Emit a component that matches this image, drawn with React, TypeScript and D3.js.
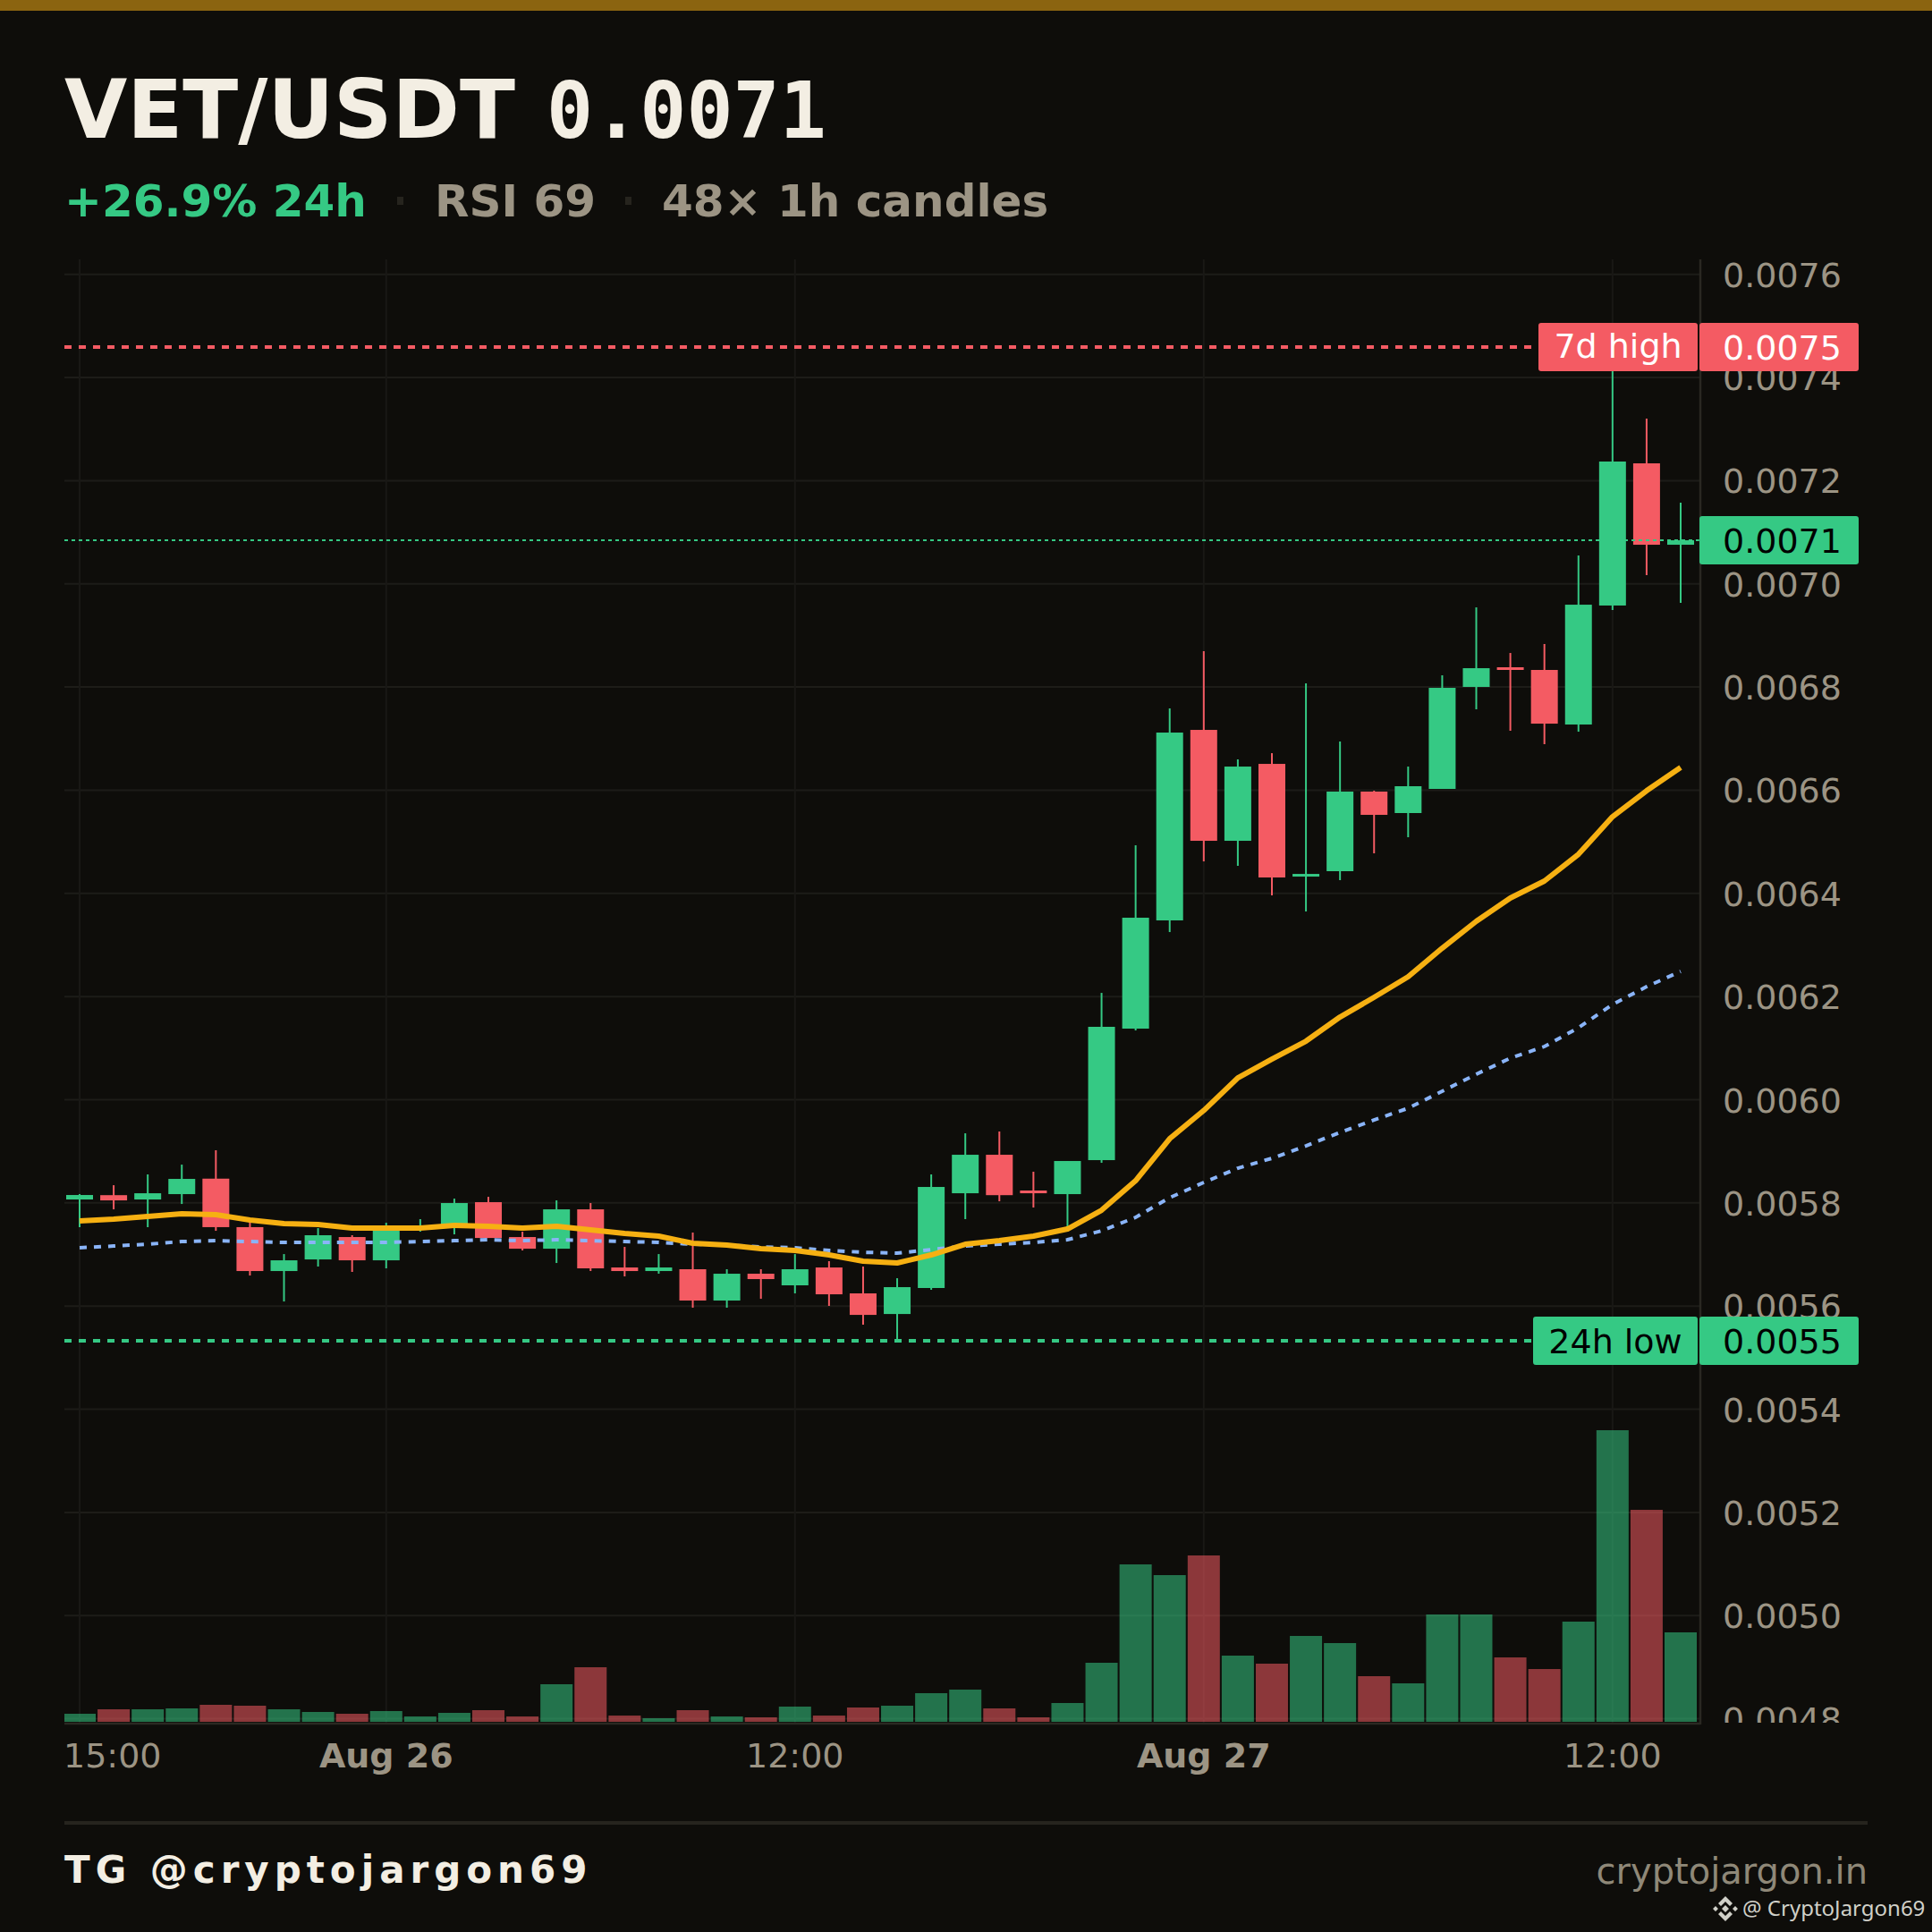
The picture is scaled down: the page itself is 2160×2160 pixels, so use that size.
import { useRef, useEffect } from 'react';
import * as d3 from 'd3';

const BG = '#0e0d0a';
const GREEN = '#35c984';
const RED = '#f45b63';
const MUTED = '#9c9484';
const CREAM = '#f3eee3';

const opens = [
  0.0058066, 0.005815, 0.0058066, 0.005817, 0.005847, 0.005753, 0.0056679, 0.0056904, 0.0057338, 0.0056887,
  0.0057511, 0.0057563, 0.0058014, 0.0057338, 0.0057112, 0.0057875, 0.0056748, 0.0056679, 0.0056714, 0.0056107,
  0.0056627, 0.0056402, 0.0056748, 0.0056246, 0.0055846, 0.005635, 0.0058187, 0.0058933, 0.005824, 0.005817,
  0.0058829, 0.0061378, 0.0063476, 0.0067169, 0.0065019, 0.006651, 0.0064325, 0.006443, 0.0065973, 0.0065557,
  0.0066025, 0.0068002, 0.0068383, 0.0068331, 0.0067273, 0.006958, 0.0072336, 0.0070758,
];
const closes = [
  0.0058153, 0.0058048, 0.0058187, 0.0058465, 0.005753, 0.0056679, 0.0056887, 0.0057373, 0.0056887, 0.0057477,
  0.0057546, 0.0057997, 0.005732, 0.0057112, 0.0057875, 0.0056731, 0.0056679, 0.0056748, 0.0056107, 0.0056627,
  0.0056523, 0.0056714, 0.0056228, 0.0055829, 0.0056367, 0.0058309, 0.0058933, 0.005815, 0.0058187, 0.0058812,
  0.0061413, 0.0063528, 0.0067117, 0.0065019, 0.0066458, 0.0064308, 0.0064377, 0.0065973, 0.0065522, 0.0066077,
  0.0067984, 0.0068365, 0.0068331, 0.006729, 0.0069596, 0.0072371, 0.0070758, 0.0070845,
];
const highs = [
  0.005817, 0.0058343, 0.0058552, 0.0058742, 0.005902, 0.0057633, 0.0057008, 0.0057511, 0.0057373, 0.0057615,
  0.0057685, 0.0058083, 0.0058118, 0.0057442, 0.0058049, 0.0057997, 0.0057147, 0.0057008, 0.0057425, 0.0056714,
  0.0056714, 0.0057008, 0.005687, 0.0056766, 0.005654, 0.0058552, 0.0059349, 0.0059384, 0.0058604, 0.0058812,
  0.0062071, 0.0064932, 0.0067586, 0.0068695, 0.0066597, 0.0066718, 0.0068071, 0.0066944, 0.006599, 0.0066458,
  0.0068227, 0.0069544, 0.006866, 0.0068834, 0.007055, 0.007459, 0.0073203, 0.0071573,
];
const lows = [
  0.0057529, 0.0057875, 0.0057529, 0.0057979, 0.0057459, 0.0056592, 0.0056089, 0.0056766, 0.0056662, 0.0056731,
  0.0057442, 0.005739, 0.005732, 0.0057078, 0.0056835, 0.0056679, 0.0056575, 0.0056627, 0.0055968, 0.0055968,
  0.0056141, 0.0056246, 0.0056003, 0.0055639, 0.0055326, 0.0056315, 0.0057685, 0.0058031, 0.005791, 0.005753,
  0.0058777, 0.0061343, 0.006325, 0.006462, 0.0064534, 0.0063961, 0.0063649, 0.0064256, 0.0064776, 0.0065088,
  0.0066025, 0.0067568, 0.0067152, 0.0066892, 0.0067134, 0.0069493, 0.0070169, 0.0069631,
];
// rough volume, only the proportions can be read off the picture
const volumes = [
  9, 14, 14, 15, 19, 18, 14, 11, 9, 12, 6, 10, 13, 6, 42, 61, 7, 4, 13, 6, 5, 17, 7, 16,
  18, 32, 36, 15, 5, 21, 66, 176, 164, 186, 74, 65, 96, 88, 51, 43, 120, 120, 72, 59, 112, 326, 237, 100,
];
const emaFast = [
  0.005765, 0.0057685, 0.0057737, 0.0057789, 0.0057771, 0.0057667, 0.0057598, 0.0057581, 0.0057511, 0.0057511,
  0.0057511, 0.0057563, 0.0057546, 0.0057511, 0.0057546, 0.0057477, 0.0057407, 0.0057355, 0.0057217, 0.0057182,
  0.0057112, 0.0057078, 0.0056991, 0.005687, 0.0056835, 0.0056991, 0.0057199, 0.0057268, 0.0057355, 0.0057494,
  0.0057858, 0.005843, 0.0059245, 0.0059791, 0.0060424, 0.0060788, 0.0061135, 0.0061603, 0.0061985, 0.0062384,
  0.0062938, 0.0063459, 0.006391, 0.0064239, 0.0064759, 0.0065487, 0.006599, 0.0066441,
];
const emaSlow = [
  0.005713, 0.0057164, 0.0057199, 0.0057251, 0.0057268, 0.0057251, 0.0057234, 0.0057234, 0.0057234, 0.0057234,
  0.0057251, 0.0057268, 0.0057286, 0.0057268, 0.0057286, 0.0057268, 0.0057251, 0.0057234, 0.0057199, 0.0057182,
  0.0057147, 0.005713, 0.0057078, 0.0057043, 0.0057026, 0.0057095, 0.0057164, 0.0057199, 0.0057234, 0.0057286,
  0.0057459, 0.0057719, 0.0058101, 0.0058396, 0.0058673, 0.0058864, 0.0059106, 0.0059367, 0.0059609, 0.0059835,
  0.0060164, 0.0060494, 0.0060806, 0.0061031, 0.0061395, 0.0061846, 0.0062192, 0.0062487,
];
const priceTicks = [
  0.0076, 0.0074, 0.0072, 0.007, 0.0068, 0.0066, 0.0064, 0.0062, 0.006, 0.0058, 0.0056, 0.0054, 0.0052, 0.005, 0.0048,
];
const timeTicks = [
  { index: 9, label: 'Aug 26', day: true },
  { index: 21, label: '12:00', day: false },
  { index: 33, label: 'Aug 27', day: true },
  { index: 45, label: '12:00', day: false },
];
const HIGH_7D = 0.007459;
const LOW_24H = 0.0055326;
const LAST_PRICE = 0.0070845;

const PLOT = { left: 72, right: 1901, top: 290, bottom: 1926 };

export default function App() {
  const svgRef = useRef<SVGSVGElement>(null);

  useEffect(() => {
    if (!svgRef.current) return;
    const svg = d3.select(svgRef.current);
    svg.selectAll('*').remove();

    const x = d3.scaleLinear().domain([0, opens.length - 1]).range([89, 1879]);
    const y = d3.scaleLinear().domain([0.0048, 0.0076]).range([1921.6, 306.7]);
    const yVol = d3.scaleLinear().domain([0, d3.max(volumes) ?? 1]).range([1925, 1599]);
    const bodyW = 30;
    const volW = 36;

    svg.append('rect').attr('width', 2160).attr('height', 2160).attr('fill', BG);
    svg.append('rect').attr('width', 2160).attr('height', 12).attr('fill', '#8b6410');

    const defs = svg.append('defs');
    defs.append('clipPath').attr('id', 'plot').append('rect')
      .attr('x', PLOT.left).attr('y', PLOT.top)
      .attr('width', PLOT.right - PLOT.left).attr('height', PLOT.bottom - PLOT.top);
    defs.append('clipPath').attr('id', 'axis').append('rect')
      .attr('x', PLOT.right).attr('y', PLOT.top)
      .attr('width', 2160 - PLOT.right).attr('height', PLOT.bottom - PLOT.top);

    const sans = 'DejaVu Sans';

    // Header
    svg.append('text').attr('x', 72).attr('y', 154).attr('fill', CREAM).attr('font-family', sans)
      .attr('font-size', 90.8).attr('font-weight', 700).text('VET/USDT');
    svg.append('text').attr('x', 611).attr('y', 154).attr('fill', CREAM).attr('font-family', 'DejaVu Sans Mono')
      .attr('font-size', 86.6).attr('font-weight', 700).text('0.0071');

    const sub = svg.append('g').attr('font-family', sans).attr('font-size', 50).attr('font-weight', 700);
    sub.append('text').attr('x', 72).attr('y', 242).attr('fill', GREEN).text('+26.9% 24h');
    sub.append('text').attr('x', 486).attr('y', 242).attr('fill', MUTED).text('RSI 69');
    sub.append('text').attr('x', 740).attr('y', 242).attr('fill', MUTED).text('48× 1h candles');
    sub.selectAll('rect.sep').data([444, 699]).enter().append('rect')
      .attr('x', d => d).attr('y', 220).attr('width', 7).attr('height', 9).attr('fill', '#26241e');

    // Grid
    const grid = svg.append('g');
    grid.selectAll('line.h').data(priceTicks).enter().append('line')
      .attr('x1', PLOT.left).attr('x2', PLOT.right)
      .attr('y1', d => y(d)).attr('y2', d => y(d))
      .attr('stroke', '#1d1c18').attr('stroke-width', 2);
    grid.selectAll('line.v').data([0, ...timeTicks.map(d => d.index)]).enter().append('line')
      .attr('x1', d => x(d)).attr('x2', d => x(d))
      .attr('y1', PLOT.top).attr('y2', PLOT.bottom)
      .attr('stroke', '#191815').attr('stroke-width', 2);

    // Volume
    svg.append('g').attr('clip-path', 'url(#plot)')
      .selectAll('rect').data(volumes).enter().append('rect')
      .attr('x', (_, i) => x(i) - volW / 2)
      .attr('width', volW)
      .attr('y', d => yVol(d))
      .attr('height', d => yVol(0) - yVol(d))
      .attr('fill', (_, i) => (closes[i] >= opens[i] ? GREEN : RED))
      .attr('fill-opacity', 0.55);

    // Range lines
    svg.append('line').attr('x1', PLOT.left).attr('x2', 1712).attr('y1', y(HIGH_7D)).attr('y2', y(HIGH_7D))
      .attr('stroke', RED).attr('stroke-width', 4).attr('stroke-dasharray', '8 8');

    // Candles
    const candles = svg.append('g');
    opens.forEach((open, i) => {
      const color = closes[i] >= open ? GREEN : RED;
      const top = y(Math.max(open, closes[i]));
      const bottom = y(Math.min(open, closes[i]));
      candles.append('line')
        .attr('x1', x(i)).attr('x2', x(i))
        .attr('y1', y(highs[i])).attr('y2', y(lows[i]))
        .attr('stroke', color).attr('stroke-width', 2);
      candles.append('rect')
        .attr('x', x(i) - bodyW / 2).attr('width', bodyW)
        .attr('y', top).attr('height', Math.max(bottom - top, 2))
        .attr('fill', color);
    });

    // EMAs
    const line = d3.line<number>().x((_, i) => x(i)).y(d => y(d));
    svg.append('path').attr('d', line(emaSlow)).attr('fill', 'none')
      .attr('stroke', '#8ab4f8').attr('stroke-width', 4).attr('stroke-dasharray', '8 8');
    svg.append('path').attr('d', line(emaFast)).attr('fill', 'none')
      .attr('stroke', '#f6b012').attr('stroke-width', 6).attr('stroke-linejoin', 'round');

    svg.append('line').attr('x1', PLOT.left).attr('x2', 1712).attr('y1', y(LOW_24H)).attr('y2', y(LOW_24H))
      .attr('stroke', GREEN).attr('stroke-width', 4).attr('stroke-dasharray', '8 8');
    svg.append('line').attr('x1', PLOT.left).attr('x2', PLOT.right).attr('y1', y(LAST_PRICE)).attr('y2', y(LAST_PRICE))
      .attr('stroke', GREEN).attr('stroke-width', 2).attr('stroke-dasharray', '4 4');

    // Axis frame
    svg.append('line').attr('x1', PLOT.right).attr('x2', PLOT.right).attr('y1', PLOT.top).attr('y2', 1928)
      .attr('stroke', '#2a2822').attr('stroke-width', 2.5);
    svg.append('line').attr('x1', PLOT.left).attr('x2', PLOT.right).attr('y1', 1927).attr('y2', 1927)
      .attr('stroke', '#2a2822').attr('stroke-width', 2.5);

    // Price axis labels
    svg.append('g').attr('clip-path', 'url(#axis)')
      .selectAll('text').data(priceTicks).enter().append('text')
      .attr('x', 1926).attr('y', d => y(d) + 14)
      .attr('font-family', sans).attr('font-size', 38).attr('fill', MUTED)
      .text(d => d.toFixed(4));

    // Time axis labels
    const timeLabels = svg.append('g').attr('font-family', sans).attr('font-size', 38).attr('fill', MUTED);
    timeLabels.append('text').attr('x', 71).attr('y', 1976).text('15:00');
    timeLabels.selectAll('text.t').data(timeTicks).enter().append('text')
      .attr('x', d => x(d.index)).attr('y', 1976)
      .attr('text-anchor', 'middle')
      .attr('font-weight', d => (d.day ? 700 : 400))
      .text(d => d.label);

    // Tags on the price scale
    const tagBox = (left: number, right: number, value: number, fill: string) => {
      svg.append('rect').attr('x', left).attr('y', y(value) - 27).attr('width', right - left).attr('height', 54)
        .attr('rx', 3).attr('fill', fill);
    };
    const tagText = (tx: number, anchor: string, value: number, dy: number, ink: string, label: string) => {
      svg.append('text').attr('x', tx).attr('y', y(value) + dy)
        .attr('text-anchor', anchor).attr('font-family', sans).attr('font-size', 38).attr('fill', ink)
        .text(label);
    };
    tagBox(1720, 1898, HIGH_7D, RED);
    tagText(1809, 'middle', HIGH_7D, 12, '#ffffff', '7d high');
    tagBox(1900, 2078, HIGH_7D, RED);
    tagText(1926, 'start', HIGH_7D, 14, '#ffffff', '0.0075');
    tagBox(1900, 2078, LAST_PRICE, GREEN);
    tagText(1926, 'start', LAST_PRICE, 14, '#000000', '0.0071');
    tagBox(1714, 1898, LOW_24H, GREEN);
    tagText(1806, 'middle', LOW_24H, 14, '#000000', '24h low');
    tagBox(1900, 2078, LOW_24H, GREEN);
    tagText(1926, 'start', LOW_24H, 14, '#000000', '0.0055');

    // Footer
    svg.append('rect').attr('x', 72).attr('y', 2036).attr('width', 2016).attr('height', 4).attr('fill', '#26241e');
    svg.append('text').attr('x', 72).attr('y', 2105)
      .attr('font-family', sans).attr('font-size', 42).attr('font-weight', 700)
      .attr('letter-spacing', 6).attr('fill', CREAM)
      .text('TG @cryptojargon69');
    svg.append('text').attr('x', 2088).attr('y', 2106).attr('text-anchor', 'end')
      .attr('font-family', sans).attr('font-size', 40).attr('fill', '#8f8878')
      .text('cryptojargon.in');

    // Watermark
    const mark = svg.append('g').attr('transform', 'translate(1929,2134)').attr('fill', '#d0d0c8');
    mark.append('path').attr('d', 'M0,-4L4,0L0,4L-4,0Z');
    mark.append('path').attr('d', 'M-11,-3L-8,0L-11,3L-14,0ZM11,-3L14,0L11,3L8,0Z');
    mark.append('path').attr('d', 'M-8,-6L0,-14L8,-6L5,-3L0,-8L-5,-3Z');
    mark.append('path').attr('d', 'M-8,6L0,14L8,6L5,3L0,8L-5,3Z');
    svg.append('text').attr('x', 1948).attr('y', 2142)
      .attr('font-family', 'Noto Sans').attr('font-size', 24).attr('fill', '#d0d0c8')
      .text('@ CryptoJargon69');
  }, []);

  return (
    <div>
      <style>{`body{margin:0;background:${BG}}`}</style>
      <svg ref={svgRef} width={2160} height={2160} style={{ display: 'block' }} />
    </div>
  );
}
